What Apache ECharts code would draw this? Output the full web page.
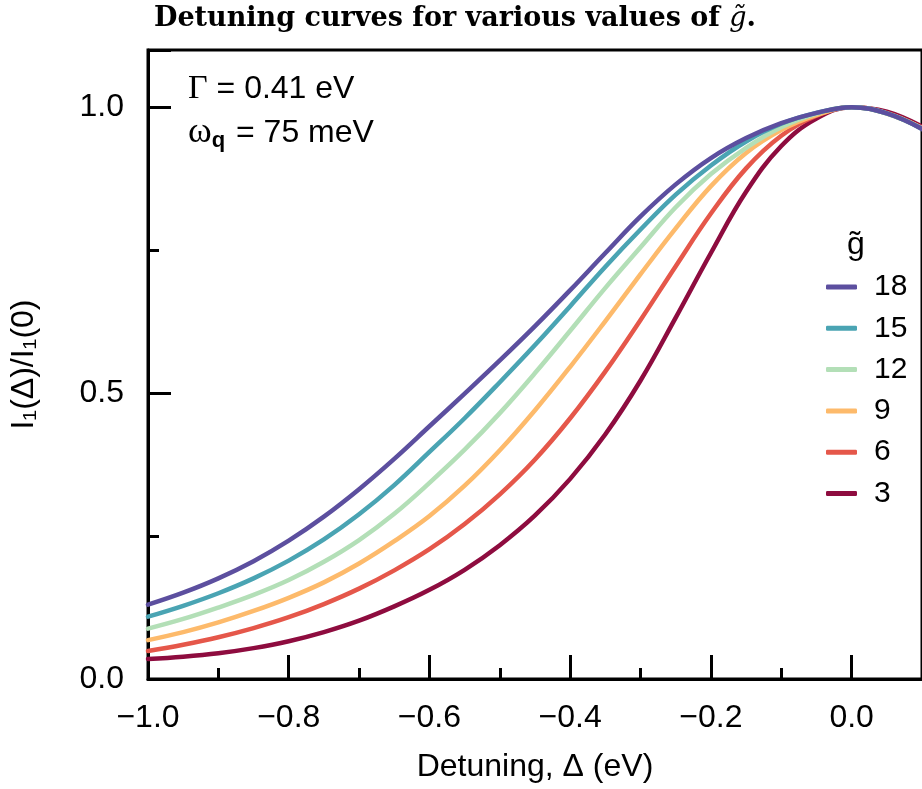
<!DOCTYPE html>
<html>
<head>
<meta charset="utf-8">
<script src="https://cdn.jsdelivr.net/npm/echarts@6/dist/echarts.min.js"></script>
<style>
html,body{margin:0;padding:0;background:#fff;}
#chart{width:922px;height:789px;}
</style>
</head>
<body>
<div id="chart"></div>
<script>
// Detuning (eV)
const detuning = [-1.0,-0.95,-0.9,-0.85,-0.8,-0.75,-0.7,-0.65,-0.6,-0.55,-0.5,-0.45,-0.4,-0.35,-0.3,-0.25,-0.2,-0.15,-0.1,-0.05,0.0,0.05,0.1];
// I1(Δ)/I1(0) for each g~
const g18 = [0.130,0.151,0.176,0.206,0.242,0.284,0.332,0.385,0.442,0.499,0.557,0.617,0.680,0.745,0.809,0.865,0.911,0.946,0.972,0.990,1.000,0.989,0.962];
const g15 = [0.109,0.128,0.150,0.176,0.207,0.244,0.288,0.339,0.397,0.456,0.519,0.584,0.652,0.721,0.786,0.847,0.898,0.940,0.971,0.990,1.000,0.989,0.962];
const g12 = [0.088,0.105,0.125,0.147,0.173,0.205,0.243,0.289,0.343,0.401,0.465,0.535,0.609,0.684,0.755,0.825,0.883,0.929,0.965,0.989,1.000,0.989,0.963];
const g9  = [0.068,0.082,0.099,0.119,0.142,0.169,0.202,0.241,0.285,0.338,0.400,0.470,0.546,0.626,0.708,0.788,0.862,0.920,0.960,0.986,1.000,0.989,0.963];
const g6  = [0.049,0.060,0.073,0.089,0.108,0.131,0.158,0.190,0.227,0.271,0.323,0.384,0.456,0.538,0.628,0.722,0.814,0.893,0.950,0.985,1.000,0.990,0.964];
const g3  = [0.035,0.039,0.045,0.054,0.066,0.082,0.102,0.127,0.156,0.191,0.234,0.286,0.350,0.428,0.522,0.632,0.745,0.852,0.932,0.980,1.000,0.992,0.966];

const seriesNames = ['18','15','12','9','6','3'];
const seriesValues = [g18, g15, g12, g9, g6, g3];
const seriesColors = ['#5c4f9f','#4aa4b3','#b3dfb7','#fdba6b','#e5574a','#8e0c3f'];
const xTicks = [-1.0,-0.8,-0.6,-0.4,-0.2,0.0];
const yTicks = [0.0,0.5,1.0];

const chart = echarts.init(document.getElementById('chart'), null, {renderer:'canvas'});
const sans = 'Liberation Sans, Arial, sans-serif';
const serif = 'Liberation Serif, DejaVu Serif, serif';

const series = [];
// draw 3 first so 18 ends on top
for (let i = seriesNames.length - 1; i >= 0; i--) {
  series.push({
    name: seriesNames[i],
    type: 'line',
    data: detuning.map((d, k) => [d, seriesValues[i][k]]),
    smooth: 0.4,
    showSymbol: false,
    symbol: 'none',
    clip: true,
    lineStyle: {color: seriesColors[i], width: 4.5, cap: 'round', join: 'round'},
    itemStyle: {color: seriesColors[i]},
    emphasis: {disabled: true}
  });
}

const fmt = v => {
  const s = Math.abs(v) < 1e-9 ? '0.0' : v.toFixed(1);
  return s.replace('-', '\u2212');
};

const option = {
  animation: false,
  backgroundColor: '#fff',
  grid: {left: 145, top: 50, width: 785.5, height: 629, show: true, borderColor: '#000', borderWidth: 3, backgroundColor: 'transparent'},
  xAxis: {
    type: 'value', min: -1.0, max: 0.1, interval: 0.2,
    name: 'Detuning, \u0394 (eV)', nameLocation: 'middle', nameGap: 72,
    nameTextStyle: {fontFamily: sans, fontSize: 32, color: '#000'},
    axisLine: {show: true, onZero: false, lineStyle: {color: '#000', width: 3}},
    axisTick: {show: true, inside: true, length: 24, lineStyle: {color: '#000', width: 3}},
    minorTick: {show: true, splitNumber: 2, length: 11, lineStyle: {color: '#000', width: 3}},
    splitLine: {show: false},
    axisLabel: {fontFamily: sans, fontSize: 32, color: '#000', margin: 23, formatter: fmt,
      customValues: xTicks},
  },
  yAxis: {
    type: 'value', min: 0, max: 1.1, interval: 0.5,
    name: 'I\u2081(\u0394)/I\u2081(0)', nameLocation: 'middle', nameGap: 108,
    nameTextStyle: {fontFamily: sans, fontSize: 32, color: '#000'},
    axisLine: {show: true, onZero: false, lineStyle: {color: '#000', width: 3}},
    axisTick: {show: true, inside: true, length: 23, lineStyle: {color: '#000', width: 3}},
    minorTick: {show: true, splitNumber: 2, length: 11, lineStyle: {color: '#000', width: 3}},
    splitLine: {show: false},
    axisLabel: {fontFamily: sans, fontSize: 32, color: '#000', margin: 24, formatter: fmt,
      customValues: yTicks},
  },
  legend: {
    orient: 'vertical', left: 826, top: 271, padding: 0,
    data: seriesNames,
    icon: 'roundRect', itemWidth: 31, itemHeight: 5, itemGap: 9.3,
    textStyle: {fontFamily: sans, fontSize: 30, color: '#000', lineHeight: 32, padding: [0,0,0,12]},
    selectedMode: false
  },
  graphic: [
    {type: 'text', x: 455, y: 19, style: {
      text: '{a|Detuning curves for various values of }{b|g\u0303}{a|.}',
      align: 'center', verticalAlign: 'middle',
      rich: {
        a: {fontFamily: 'DejaVu Serif', fontWeight: 'bold', fontSize: 27, fill: '#000'},
        b: {fontFamily: 'DejaVu Serif', fontStyle: 'italic', fontSize: 27, fill: '#000'}
      }
    }},
    {type: 'text', x: 188, y: 72, style: {
      text: '{s|\u0393}{t| = 0.41 eV}',
      rich: {
        s: {fontFamily: serif, fontSize: 34, fill: '#000'},
        t: {fontFamily: sans, fontSize: 32, fill: '#000'}
      }
    }},
    {type: 'text', x: 188, y: 114, style: {
      text: '{s|\u03c9}{q|q}{t| = 75 meV}',
      rich: {
        s: {fontFamily: serif, fontSize: 36, fill: '#000'},
        q: {fontFamily: sans, fontWeight: 'bold', fontSize: 22, fill: '#000', padding: [16,2,0,0]},
        t: {fontFamily: sans, fontSize: 32, fill: '#000'}
      }
    }},
    {type: 'text', x: 856, y: 245, style: {
      text: 'g\u0303', fontFamily: sans, fontSize: 32, fill: '#000', align: 'center', verticalAlign: 'middle'
    }}
  ],
  series: series
};
chart.setOption(option);
</script>
</body>
</html>
